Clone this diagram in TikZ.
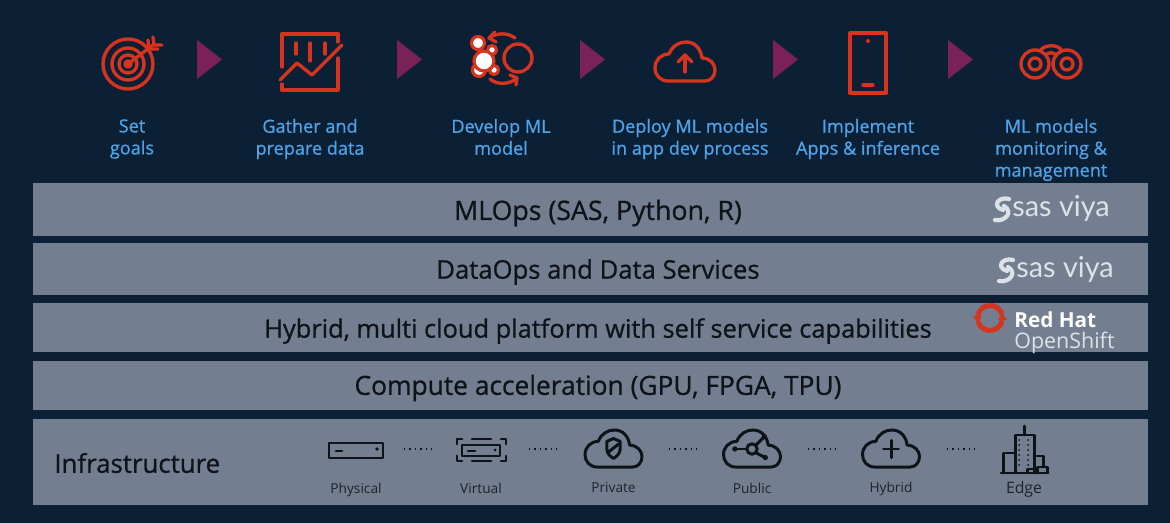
\documentclass[tikz,border=0pt]{standalone}
\usepackage{fontspec}
\setmainfont{Open Sans}
\newfontfamily\mediumfont[FakeBold=0.8]{Open Sans}
\newfontfamily\logofont{Lato}
\usepackage{tikz}
\definecolor{navyback}{HTML}{0C2035}
\definecolor{bandgray}{HTML}{737F91}
\definecolor{iconred}{HTML}{D6341F}
\definecolor{stepplum}{HTML}{7A2258}
\definecolor{labelblue}{HTML}{4FA3E8}
\definecolor{inkdark}{HTML}{0E1219}
\definecolor{logowhite}{HTML}{DDE2E8}
\tikzset{
  bandfill/.style={fill=bandgray},
  steplabel/.style={text=labelblue,font=\mediumfont\fontsize{10.3pt}{12.5pt}\selectfont,align=center},
  bandlabel/.style={text=inkdark,font=\mediumfont\fontsize{#1}{16pt}\selectfont},
  bandlabel/.default=14.7pt,
  iconlabel/.style={text=inkdark!85!bandgray,font=\fontsize{7.8pt}{9pt}\selectfont},
  redicon/.style={draw=iconred,line width=1.9pt,line join=round,line cap=round},
  darkicon/.style={draw=inkdark,line width=1.7pt,line join=round,line cap=round},
  dotline/.style={draw=inkdark,line width=0.7pt,dash pattern=on 0.7pt off 2.4pt},
  saslogo/.style={text=logowhite,font=\logofont\fontsize{16.4pt}{17pt}\selectfont},
}
% cloud outline around the local origin
\newcommand{\cloudoutline}{(-17,19) .. controls (-25,19) and (-30,13) .. (-30,6)
    .. controls (-30,-2) and (-24,-8) .. (-16,-8)
    .. controls (-13,-16) and (-6,-20) .. (1,-20)
    .. controls (10,-20) and (16,-13) .. (17,-4)
    .. controls (25,-4) and (30,2) .. (30,8)
    .. controls (30,14) and (26,19) .. (20,19) -- cycle}
% sas swirl around the local origin
\newcommand{\sasswirl}{%
  \draw[logowhite,line width=2.4pt,line cap=round] (7,-10) .. controls (-3,-13) and (-11,-3) .. (1,1);
  \draw[logowhite,line width=2.4pt,line cap=round] (-7,11) .. controls (3,13) and (12,3) .. (2,-3);
}
\begin{document}
\begin{tikzpicture}[x=0.02cm,y=-0.02cm]
\useasboundingbox (0,0) rectangle (1170,523);
\fill[navyback] (0,0) rectangle (1170,523);

% layers
\fill[bandfill] (33,183) rectangle (1148,236);
\fill[bandfill] (33,243) rectangle (1148,295);
\fill[bandfill] (33,303) rectangle (1148,352);
\fill[bandfill] (33,361) rectangle (1148,410);
\fill[bandfill] (33,419) rectangle (1148,505);
\node[bandlabel=15.2pt] (mlops) at (598,213) {MLOps (SAS, Python, R)};
\node[bandlabel=14.6pt] (dataops) at (598,272) {DataOps and Data Services};
\node[bandlabel=14.45pt] (hybridcloud) at (598,331) {Hybrid, multi cloud platform with self service capabilities};
\node[bandlabel=15pt] (compute) at (598,388) {Compute acceleration (GPU, FPGA, TPU)};
\node[bandlabel,anchor=west,inner sep=0pt] (infra) at (54,463) {Infrastructure};

% steps
\foreach \xpos in {197,397,580,773,948}
  \fill[stepplum] (\xpos,40) -- ++(25,19.5) -- ++(-25,19.5) -- cycle;
\node[steplabel] (goals) at (132,139) {Set\\goals};
\node[steplabel] (gather) at (310,139) {Gather and\\prepare data};
\node[steplabel] (develop) at (501,137) {Develop ML\\model};
\node[steplabel] (deploy) at (690,139) {Deploy ML models\\in app dev process};
\node[steplabel] (implement) at (868,139) {Implement\\Apps \& inference};
\node[steplabel] (monitor) at (1051,150) {ML models\\monitoring \&\\management};

% target
\begin{scope}[shift={(128,64)}]
  \draw[redicon] (0,0) circle (25);
  \draw[redicon] (0,0) circle (16);
  \draw[redicon] (0,0) circle (9);
  \draw[redicon] (0,0) circle (3);
  \draw[redicon] (0,0) -- (25,-19);
  \draw[redicon] (20,-24) -- (21,-15) -- (30,-15);
  \draw[redicon] (25,-27) -- (26,-19) -- (34,-19);
\end{scope}
% chart
\begin{scope}[shift={(282,34)}]
  \draw[redicon] (0,33) -- (0,0) -- (56,0) -- (56,8);
  \draw[redicon] (56,24) -- (56,56) -- (0,56) -- (0,50);
  \draw[redicon] (-2,46) -- (15,29) -- (30,41) -- (60,11);
  \draw[redicon] (14,9) -- (14,20);
  \draw[redicon] (28,9) -- (28,27);
  \draw[redicon] (43,9) -- (43,20);
\end{scope}
% model blobs
\begin{scope}[shift={(484,61)}]
  \draw[iconred,line width=1.8pt,fill=white] (8,-11) circle (4.5);
  \draw[iconred,line width=1.8pt,fill=white] (10,9) circle (4.5);
  \draw[iconred,line width=1.8pt,fill=white] (-6,-18) circle (6.5);
  \draw[iconred,line width=1.8pt,fill=white] (-5,9) circle (6.5);
  \draw[iconred,line width=1.8pt,fill=white] (0,0) circle (10);
  \draw[redicon] (34,-3) circle (14);
  \draw[redicon] (31,-23) .. controls (23,-29) and (12,-28) .. (5,-23);
  \draw[redicon] (11,-29) -- (5,-23) -- (12,-19);
  \draw[redicon] (6,18) .. controls (13,24) and (25,24) .. (33,17);
  \draw[redicon] (26,14) -- (33,17) -- (32,24);
\end{scope}
% upload cloud
\begin{scope}[shift={(685,62)}]
  \draw[redicon] \cloudoutline;
  \draw[redicon] (0,10) -- (0,-7);
  \draw[redicon] (-7,0) -- (0,-7) -- (7,0);
\end{scope}
% phone
\begin{scope}[shift={(850,33)}]
  \draw[redicon] (0,0) rectangle (36,60);
  \fill[iconred] (18,8) circle (2);
  \draw[redicon] (13,52) -- (23,52);
\end{scope}
% binoculars
\begin{scope}[shift={(1052,64)}]
  \draw[redicon] (-17,0) circle (14);
  \draw[redicon] (-17,0) circle (6);
  \draw[redicon] (15,0) circle (14);
  \draw[redicon] (15,0) circle (6);
  \draw[redicon] (-12,-13) .. controls (-8,-20) and (7,-20) .. (10,-13);
  \draw[redicon] (-6,-9) .. controls (-3,-12) and (1,-12) .. (4,-9);
\end{scope}

% logos
\begin{scope}[shift={(1002,209)}]
  \sasswirl
\end{scope}
\node[saslogo,anchor=west,inner sep=0pt] (sasa) at (1012,208) {sas viya};
\begin{scope}[shift={(1006,270)}]
  \sasswirl
\end{scope}
\node[saslogo,anchor=west,inner sep=0pt] (sasb) at (1016,269) {sas viya};
\begin{scope}[shift={(990,318)}]
  \draw[iconred,line width=2.8pt] (190:12.5) arc (190:345:12.5);
  \draw[iconred,line width=2.8pt] (10:12.5) arc (10:165:12.5);
  \fill[iconred] (-17,-2) -- (-8,-2) -- (-12,5) -- cycle;
  \fill[iconred] (17,2) -- (8,2) -- (12,-5) -- cycle;
\end{scope}
\node[anchor=west,inner sep=0pt,text=white,font=\bfseries\fontsize{11.8pt}{12pt}\selectfont] (redhat) at (1014,320) {Red Hat};
\node[anchor=west,inner sep=0pt,text=logowhite,font=\fontsize{12.2pt}{13pt}\selectfont] (openshift) at (1014,343) {OpenShift};

% infrastructure icons
\coordinate (physical) at (356,449);
\coordinate (virtual) at (481,449);
\coordinate (private) at (613.5,449);
\coordinate (public) at (752,449);
\coordinate (hybrid) at (891,449);
\coordinate (edge) at (1024,449);
\foreach \from/\to/\gapa/\gapb in {physical/virtual/0.96/0.96,virtual/private/0.96/1.11,private/public/1.11/1.08,public/hybrid/1.12/1.08,hybrid/edge/1.12/0.98}
  \draw[dotline,shorten <=\gapa cm,shorten >=\gapb cm] (\from) -- (\to);

\begin{scope}[shift={(physical)}]
  \draw[darkicon] (-27,-6) rectangle (27,9);
  \draw[darkicon] (-20,2) -- (-14,2);
  \fill[inkdark] (21,0) circle (1.8);
\end{scope}
\begin{scope}[shift={(virtual)}]
  \draw[darkicon] (-19,-4) rectangle (19,7);
  \draw[darkicon] (-13,2) -- (-6,2);
  \fill[inkdark] (14,1) circle (1.5);
  \draw[darkicon] (-9,-10) -- (10,-10);
  \draw[darkicon] (-9,12) -- (10,12);
  \draw[darkicon] (-24,-5) -- (-24,-10) -- (-19,-10);
  \draw[darkicon] (25,-5) -- (25,-10) -- (20,-10);
  \draw[darkicon] (-24,7) -- (-24,12) -- (-19,12);
  \draw[darkicon] (25,7) -- (25,12) -- (20,12);
\end{scope}
\begin{scope}[shift={(private)},scale=0.95]
  \draw[darkicon] \cloudoutline;
  \draw[darkicon] (0,-11) -- (7,-8) -- (7,0) .. controls (7,5) and (3,8) .. (0,10)
    .. controls (-3,8) and (-7,5) .. (-7,0) -- (-7,-8) -- cycle;
  \draw[darkicon] (-5,3) -- (5,-5);
\end{scope}
\begin{scope}[shift={(public)},scale=0.95]
  \draw[darkicon] \cloudoutline;
  \draw[darkicon] (0,0) circle (5.5);
  \draw[darkicon] (-5.5,0) -- (-17,0);
  \draw[darkicon] (4,-4) -- (13,-13);
  \draw[darkicon] (4,4) -- (14,9);
  \fill[inkdark] (-18,0) circle (2.8);
  \fill[inkdark] (13,-13) circle (2.8);
  \fill[inkdark] (14,9) circle (2.8);
\end{scope}
\begin{scope}[shift={(hybrid)},scale=0.95]
  \draw[darkicon] \cloudoutline;
  \draw[darkicon] (0,-9) -- (0,9);
  \draw[darkicon] (-8,0) -- (8,0);
\end{scope}
\begin{scope}[shift={(1001,426)}]
  \draw[darkicon] (0,47) -- (47,47);
  \draw[darkicon] (23,0) -- (23,9);
  \draw[darkicon] (14,47) -- (14,9) -- (33,9) -- (33,47);
  \draw[darkicon] (2,47) -- (2,27) -- (14,27);
  \draw[darkicon] (33,30) -- (42,30) -- (42,41);
  \draw[darkicon] (26,47) -- (26,43) -- (34,43) -- (34,47);
  \draw[darkicon] (36,47) -- (36,41) -- (46,41) -- (46,47);
  \foreach \ypos in {14,19,24,29,34,39} {
    \fill[inkdark] (18,\ypos) circle (1);
    \fill[inkdark] (27,\ypos) circle (1);
  }
\end{scope}

\node[iconlabel] (physicallabel) at (356,490) {Physical};
\node[iconlabel] (virtuallabel) at (481,488) {Virtual};
\node[iconlabel] (privatelabel) at (613.5,488) {Private};
\node[iconlabel] (publiclabel) at (752,488) {Public};
\node[iconlabel] (hybridlabel) at (891,489) {Hybrid};
\node[iconlabel,font=\fontsize{9pt}{10pt}\selectfont] (edgelabel) at (1024,489) {Edge};
\end{tikzpicture}
\end{document}
